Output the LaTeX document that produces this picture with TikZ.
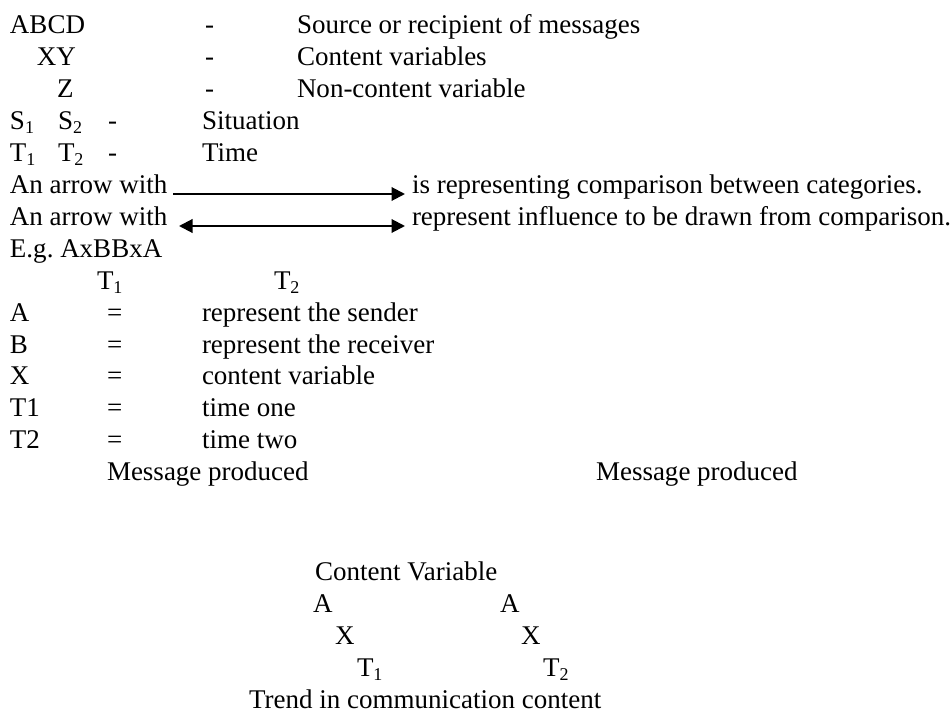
\documentclass[tikz,border=0pt]{standalone}
\usepackage{fontspec}
\setmainfont{Liberation Serif}
\usetikzlibrary{arrows.meta}
\begin{document}
\begin{tikzpicture}[x=0.4444pt,y=-0.4444pt,
  t/.style={anchor=base west,inner sep=0pt,outer sep=0pt,font=\fontsize{12}{14}\selectfont},
  arr/.style={line width=0.9pt,-{Triangle[length=6pt,width=6pt]}},
  darr/.style={line width=0.9pt,{Triangle[length=6pt,width=6pt]}-{Triangle[length=6pt,width=6pt]}}]
\useasboundingbox (0,0) rectangle (950,713);
% legend rows
\node[t] (abcd) at (10,34) {ABCD};
\node[t] (d1) at (205,34) {-};
\node[t] (src) at (297,34) {Source or recipient of messages};
\node[t] (xy) at (37,65.9) {XY};
\node[t] (d2) at (205,65.9) {-};
\node[t] (cv) at (297,65.9) {Content variables};
\node[t] (z) at (57,97.8) {Z};
\node[t] (d3) at (205,97.8) {-};
\node[t] (ncv) at (297,97.8) {Non-content variable};
\node[t] (s1) at (10,129.7) {S\textsubscript{1}};
\node[t] (s2) at (58,129.7) {S\textsubscript{2}};
\node[t] (d4) at (108,129.7) {-};
\node[t] (sit) at (202,129.7) {Situation};
\node[t] (t1) at (10,161.6) {T\textsubscript{1}};
\node[t] (t2) at (58,161.6) {T\textsubscript{2}};
\node[t] (d5) at (108,161.6) {-};
\node[t] (time) at (202,161.6) {Time};
% arrows
\node[t] (aw1) at (10,193.5) {An arrow with};
\coordinate (a1s) at (173,194);
\coordinate (a1e) at (405,194);
\draw[arr] (a1s) -- (a1e);
\node[t] (rep1) at (412,193.5) {is representing comparison between categories.};
\node[t] (aw2) at (10,225.4) {An arrow with};
\coordinate (a2s) at (179,226);
\coordinate (a2e) at (405,226);
\draw[darr] (a2s) -- (a2e);
\node[t] (rep2) at (412,225.4) {represent influence to be drawn from comparison.};
% example
\node[t] (eg) at (10,257.3) {E.g.\ AxBBxA};
\node[t] (ht1) at (97,289.2) {T\textsubscript{1}};
\node[t] (ht2) at (274,289.2) {T\textsubscript{2}};
\node[t] (la) at (10,321.1) {A};
\node[t] (ea) at (107,321.1) {=};
\node[t] (ta) at (202,321.1) {represent the sender};
\node[t] (lb) at (10,353) {B};
\node[t] (eb) at (107,353) {=};
\node[t] (tb) at (202,353) {represent the receiver};
\node[t] (lx) at (10,384.9) {X};
\node[t] (ex) at (107,384.9) {=};
\node[t] (tx) at (202,384.9) {content variable};
\node[t] (lt1) at (10,416.8) {T1};
\node[t] (et1) at (107,416.8) {=};
\node[t] (tt1) at (202,416.8) {time one};
\node[t] (lt2) at (10,448.7) {T2};
\node[t] (et2) at (107,448.7) {=};
\node[t] (tt2) at (202,448.7) {time two};
\node[t] (mp1) at (107,480.6) {Message produced};
\node[t] (mp2) at (596,480.6) {Message produced};
% trend
\node[t] (cvar) at (315,580) {Content Variable};
\node[t] (ba1) at (313,612) {A};
\node[t] (ba2) at (500,612) {A};
\node[t] (bx1) at (335,644) {X};
\node[t] (bx2) at (521,644) {X};
\node[t] (bt1) at (357,676) {T\textsubscript{1}};
\node[t] (bt2) at (543,676) {T\textsubscript{2}};
\node[t] (trend) at (249,708) {Trend in communication content};
\end{tikzpicture}
\end{document}
